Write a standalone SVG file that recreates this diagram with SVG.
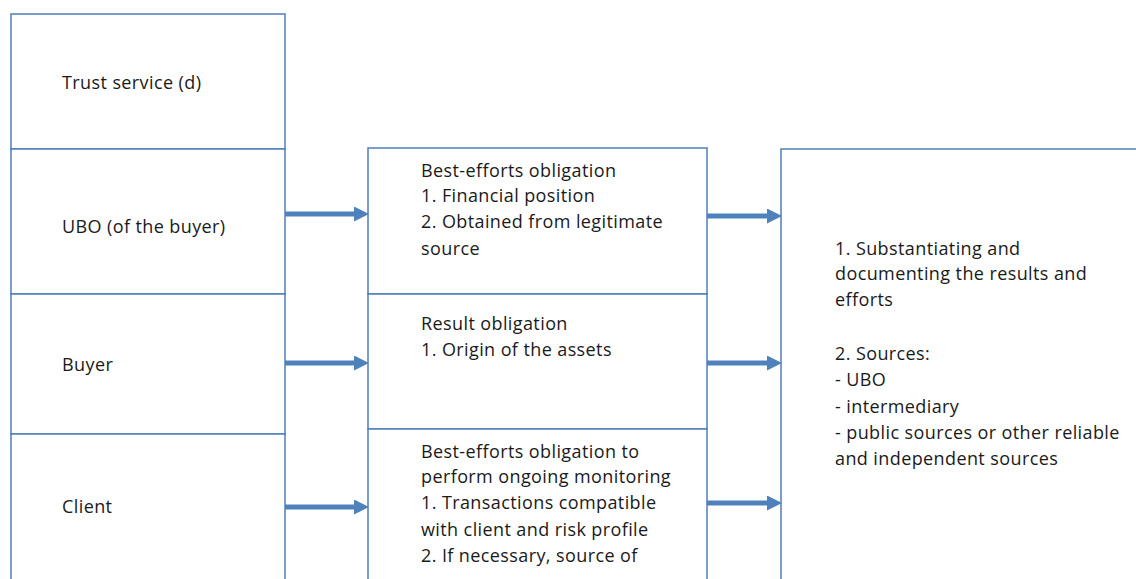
<svg xmlns="http://www.w3.org/2000/svg" width="1136" height="579" viewBox="0 0 1136 579">
<style>
.box{fill:#fff;stroke:#4f7fb8;stroke-width:1.5}
.t{font-family:"Open Sans","Liberation Sans",sans-serif;font-size:18px;letter-spacing:0.4px;fill:#1a1a1a}
.c{stroke:#4f81bd;stroke-width:5;fill:none}
</style>
<defs>
<marker id="ah" markerWidth="3" markerHeight="3" refX="1.6" refY="1.5" orient="auto" markerUnits="strokeWidth">
<path d="M0,0 L3,1.5 L0,3 Z" fill="#4f81bd"/>
</marker>
</defs>
<rect width="1136" height="579" fill="#fff"/>
<g id="trust"><rect class="box" x="11" y="14" width="274" height="135"/><text class="t" x="62" y="89">Trust service (d)</text></g>
<g id="ubo"><rect class="box" x="11" y="149" width="274" height="145"/><text class="t" x="62" y="233">UBO (of the buyer)</text></g>
<g id="buyer"><rect class="box" x="11" y="294" width="274" height="140"/><text class="t" x="62" y="371">Buyer</text></g>
<g id="client"><rect class="box" x="11" y="434" width="274" height="160"/><text class="t" x="62" y="513">Client</text></g>
<g id="best1"><rect class="box" x="368" y="148" width="339" height="146"/>
<text class="t" x="421" y="177">Best-efforts obligation</text>
<text class="t" x="421" y="202">1. Financial position</text>
<text class="t" x="421" y="228">2. Obtained from legitimate</text>
<text class="t" x="421" y="255">source</text></g>
<g id="result"><rect class="box" x="368" y="294" width="339" height="135"/>
<text class="t" x="421" y="330">Result obligation</text>
<text class="t" x="421" y="356">1. Origin of the assets</text></g>
<g id="best2"><rect class="box" x="368" y="429" width="339" height="165"/>
<text class="t" x="421" y="458">Best-efforts obligation to</text>
<text class="t" x="421" y="483">perform ongoing monitoring</text>
<text class="t" x="421" y="509">1. Transactions compatible</text>
<text class="t" x="421" y="536">with client and risk profile</text>
<text class="t" x="421" y="562">2. If necessary, source of</text></g>
<g id="doc"><rect class="box" x="781" y="149" width="370" height="450"/>
<text class="t" x="835" y="255">1. Substantiating and</text>
<text class="t" x="835" y="280">documenting the results and</text>
<text class="t" x="835" y="306">efforts</text>
<text class="t" x="835" y="360">2. Sources:</text>
<text class="t" x="835" y="386">- UBO</text>
<text class="t" x="835" y="413">- intermediary</text>
<text class="t" x="835" y="439">- public sources or other reliable</text>
<text class="t" x="835" y="465">and independent sources</text></g>
<g id="connectors">
<line class="c" x1="285" y1="214" x2="362" y2="214" marker-end="url(#ah)"/>
<line class="c" x1="285" y1="363" x2="362" y2="363" marker-end="url(#ah)"/>
<line class="c" x1="285" y1="507" x2="362" y2="507" marker-end="url(#ah)"/>
<line class="c" x1="707" y1="216" x2="775" y2="216" marker-end="url(#ah)"/>
<line class="c" x1="707" y1="363" x2="775" y2="363" marker-end="url(#ah)"/>
<line class="c" x1="707" y1="503" x2="775" y2="503" marker-end="url(#ah)"/>
</g>
</svg>
